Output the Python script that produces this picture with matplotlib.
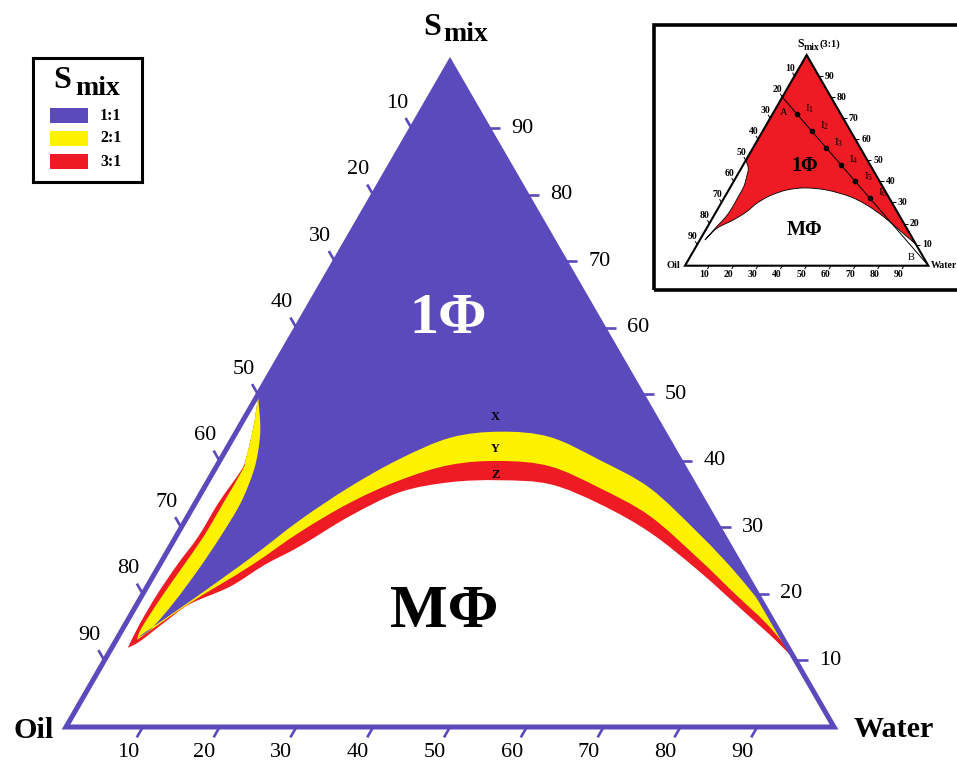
import numpy as np
import matplotlib
matplotlib.use("Agg")
import matplotlib.pyplot as plt
from matplotlib.path import Path
from matplotlib.patches import PathPatch, Polygon, Rectangle

plt.rcParams["font.family"] = "Liberation Serif"
plt.rcParams["mathtext.fontset"] = "custom"
plt.rcParams["mathtext.rm"] = "Liberation Serif"
plt.rcParams["mathtext.bf"] = "Liberation Serif:bold"
plt.rcParams["mathtext.it"] = "Liberation Serif:italic"

W_PX, H_PX = 957, 766
SQ3 = np.sqrt(3) / 2

PURPLE = "#5b4abb"
YELLOW = "#fff200"
RED = "#ee1b24"

TICKS = [10, 20, 30, 40, 50, 60, 70, 80, 90]
SMIX_RATIOS = ["1:1", "2:1", "3:1"]
RATIO_COLORS = [PURPLE, YELLOW, RED]

# Phase boundaries as (water %, Smix %), oil = 100 - water - Smix.
# Lower edge of each one-phase region, from the oil-side tip to the water-side end.
LOW_11_WATER = [2.55, 6.7, 11.3, 14.9, 18.9, 23.3, 28.3, 34.3, 41.2, 49.5, 58.1, 68.1, 75.1, 82.4]
LOW_11_SMIX = [13.4, 18.9, 25.4, 31.1, 36.1, 40.3, 43.5, 44.4, 43.6, 40.1, 35.9, 28.9, 23.6, 17.6]

LOW_21_WATER = [2.7, 6.8, 11.9, 15.8, 20.1, 24.9, 30.3, 36.5, 43.4, 51.6, 60.2, 70.0, 76.7, 83.5, 88.9]
LOW_21_SMIX = [13.1, 18.6, 24.2, 29.3, 33.7, 37.1, 39.4, 40.0, 39.2, 35.9, 31.7, 25.1, 20.3, 15.5, 11.1]

LOW_31_WATER = [2.1, 3.2, 5.0, 6.9, 10.8, 13.7, 16.9, 21.1, 25.8, 31.6, 37.9, 44.8, 52.8, 61.5, 70.9, 80.4, 85.8, 90.1]
LOW_31_SMIX = [11.9, 12.9, 15.8, 18.5, 21.1, 24.4, 27.2, 31.7, 35.3, 36.8, 37.1, 36.5, 33.5, 29.2, 23.3, 16.8, 13.1, 9.9]

# Oil-side edge of each region, from the Oil-Smix axis down to the tip.
LEFT_11_WATER = [0.0, 2.75, 4.2, 5.2, 5.9, 5.8, 5.4, 4.7, 3.7, 2.55]
LEFT_11_SMIX = [50.0, 45.1, 41.7, 38.4, 33.7, 28.6, 23.7, 18.8, 14.7, 13.4]

LEFT_21_WATER = [0.0, 0.35, 1.85, 3.3, 3.65, 3.65, 3.6, 3.1, 2.6, 2.4, 2.7]
LEFT_21_SMIX = [50.0, 49.2, 45.1, 40.2, 38.7, 33.7, 28.6, 23.7, 18.8, 14.7, 13.1]

LEFT_31_WATER = [0.0, 0.35, 1.85, 3.3, 3.5, 3.0, 2.9, 2.3, 1.9, 1.85, 2.1]
LEFT_31_SMIX = [50.0, 49.2, 45.1, 40.2, 38.4, 33.7, 28.6, 24.5, 20.0, 15.5, 11.9]

# Smix 3:1 diagram with the water dilution line A-B
INSET_LOW_WATER = [2.1, 4.2, 9.0, 12.5, 14.7, 18.3, 23.8, 30.9, 40.3, 51.4, 60.3, 69.9, 80.1, 89.9]
INSET_LOW_SMIX = [12.2, 17.7, 21.7, 25.6, 29.6, 33.2, 35.9, 36.9, 35.9, 32.8, 28.8, 23.3, 16.6, 10.1]
INSET_LEFT_WATER = [0.0, 2.9, 4.2, 5.4, 5.5, 5.6, 5.2, 3.75, 2.7, 2.1]
INSET_LEFT_SMIX = [50.0, 46.2, 42.3, 37.5, 32.8, 28.0, 23.3, 18.5, 14.6, 12.2]

DILUTION_WATER = [10, 20, 30, 40, 50, 60]
DILUTION_SMIX = [72, 64, 56, 48, 40, 32]


def tern(water, smix):
    water = np.asarray(water, dtype=float)
    smix = np.asarray(smix, dtype=float)
    return water + smix / 2, smix * SQ3


def curve_through(pts):
    """Catmull-Rom curve through pts as cubic Bezier segments."""
    pts = np.asarray(pts, dtype=float)
    n = len(pts)
    verts, codes = [], []
    for i in range(n - 1):
        p0 = pts[i - 1] if i > 0 else pts[i]
        p1, p2 = pts[i], pts[i + 1]
        p3 = pts[i + 2] if i + 2 < n else pts[i + 1]
        verts += [p1 + (p2 - p0) / 6, p2 - (p3 - p1) / 6, p2]
        codes += [Path.CURVE4] * 3
    return verts, codes


def region_path(low_w, low_s, left_w, left_s):
    apex = np.array(tern(0, 100))
    low = np.column_stack(tern(low_w, low_s))[::-1]
    left = np.column_stack(tern(left_w, left_s))[::-1]
    verts = [apex, low[0]]
    codes = [Path.MOVETO, Path.LINETO]
    v, c = curve_through(low)
    verts += v
    codes += c
    if not np.allclose(left[0], low[-1]):
        verts.append(left[0])
        codes.append(Path.LINETO)
    v, c = curve_through(left)
    verts += v
    codes += c
    verts += [apex, apex]
    codes += [Path.LINETO, Path.CLOSEPOLY]
    return Path(np.array(verts), codes)


def ternary_axes(fig, box, origin, scale):
    """Axes whose data units are ternary percent, with the Oil corner at origin (px)."""
    l, t, r, b = box
    ax = fig.add_axes([l / W_PX, 1 - b / H_PX, (r - l) / W_PX, (b - t) / H_PX])
    ox, oy = origin
    ax.set_xlim((l - ox) / scale, (r - ox) / scale)
    ax.set_ylim((oy - b) / scale, (oy - t) / scale)
    ax.set_axis_off()
    return ax


def draw_frame(ax, color, lw, tick_len, gaps, tick_lw, fontsize, weight):
    corners = np.column_stack(tern([0, 100, 0], [0, 0, 100]))
    ax.add_patch(Polygon(corners, closed=True, fill=False, edgecolor=color,
                         lw=lw, joinstyle="miter", zorder=5))
    gap_b, gap_l, gap_r = gaps
    for v in TICKS:
        # water along the bottom, oil on the left side, Smix on the right side
        for base, d, gap, ha in [
            (tern(v, 0), (-0.5, -SQ3), gap_b, "center"),
            (tern(0, 100 - v), (-0.5, SQ3), gap_l, "center"),
            (tern(100 - v, v), (1.0, 0.0), gap_r, "left"),
        ]:
            base = np.array(base)
            d = np.array(d)
            end = base + d * tick_len
            ax.plot([base[0], end[0]], [base[1], end[1]], color=color, lw=tick_lw,
                    solid_capstyle="butt", zorder=5)
            pos = base + d * gap
            ax.text(pos[0], pos[1], str(v), ha=ha, va="center",
                    fontsize=fontsize, fontweight=weight)


fig = plt.figure(figsize=(W_PX / 100, H_PX / 100), dpi=100)

# ---- main diagram ----
ax = ternary_axes(fig, (0, 0, W_PX, H_PX), (66, 727), 7.68)

regions = [
    (LOW_31_WATER, LOW_31_SMIX, LEFT_31_WATER, LEFT_31_SMIX, RED),
    (LOW_21_WATER, LOW_21_SMIX, LEFT_21_WATER, LEFT_21_SMIX, YELLOW),
    (LOW_11_WATER, LOW_11_SMIX, LEFT_11_WATER, LEFT_11_SMIX, PURPLE),
]
for low_w, low_s, left_w, left_s, col in regions:
    ax.add_patch(PathPatch(region_path(low_w, low_s, left_w, left_s),
                           facecolor=col, edgecolor="none", zorder=2))

draw_frame(ax, PURPLE, 3.6, 1.56, (3.9, 3.8, 3.0), 1.9, 16, "normal")

ax.text(46.5, 90.1, "S", fontsize=23, fontweight="bold", va="baseline")
ax.text(49.1, 89.3, "mix", fontsize=20, fontweight="bold", va="baseline")
ax.text(-6.9, -1.4, "Oil", fontsize=21.7, fontweight="bold", va="baseline")
ax.text(102.5, -1.3, "Water", fontsize=21.7, fontweight="bold", va="baseline")

ax.text(49.7, 53.1, "1\u03a6", fontsize=42, fontweight="bold", color="white",
        ha="center", va="center", zorder=6)
ax.text(49.2, 15.0, "M\u03a6", fontsize=44, fontweight="bold",
        ha="center", va="center", zorder=6)
for lab, y in zip(["X", "Y", "Z"], [40.4, 36.2, 32.8]):
    ax.text(55.9, y, lab, fontsize=9, fontweight="bold", ha="center", va="center", zorder=6)

# ---- legend box ----
lax = fig.add_axes([33 / W_PX, 1 - 182 / H_PX, 109 / W_PX, 124 / H_PX])
lax.set_xlim(0, 109)
lax.set_ylim(124, 0)
lax.set_xticks([])
lax.set_yticks([])
for sp in lax.spines.values():
    sp.set_linewidth(2.2)
    sp.set_color("black")
lax.text(20, 30, "S", fontsize=23, fontweight="bold", va="baseline")
lax.text(42, 37, "mix", fontsize=20, fontweight="bold", va="baseline")
for i, (lab, col) in enumerate(zip(SMIX_RATIOS, RATIO_COLORS)):
    lax.add_patch(Rectangle((17, 50 + i * 23), 38, 14.5, facecolor=col, edgecolor="none"))
    lax.text(67, 57.5 + i * 23, lab, fontsize=11.5, fontweight="bold", va="center")

# ---- Smix 3:1 inset ----
iax = ternary_axes(fig, (653.5, 24.5, W_PX, 289.5), (685, 265.7), 2.433)
iax.add_patch(Rectangle((0, 0), 1.5, 1, transform=iax.transAxes, fill=False,
                        edgecolor="black", lw=2.6, clip_on=False))
iax.add_patch(PathPatch(region_path(INSET_LOW_WATER, INSET_LOW_SMIX,
                                    INSET_LEFT_WATER, INSET_LEFT_SMIX),
                        facecolor=RED, edgecolor="black", lw=0.6, zorder=2))
draw_frame(iax, "black", 1.5, 1.6, (4.4, 3.7, 2.4), 0.7, 7, "bold")

iax.plot(*tern([0, 100], [80, 0]), color="black", lw=0.7, zorder=3)
iax.plot(*tern(DILUTION_WATER, DILUTION_SMIX), "o", ms=3, color="black", zorder=4)
for i, (w, s) in enumerate(zip(DILUTION_WATER, DILUTION_SMIX)):
    x, y = tern(w, s)
    iax.text(x + 3.4, y + 2.1, rf"$\mathrm{{I}}_{{{i + 1}}}$", fontsize=8, va="center")
iax.text(40.4, 62.9, "A", fontsize=7.5, ha="center", va="center")
iax.text(92.8, 3.3, "B", fontsize=7.5, ha="center", va="center")
iax.text(49.3, 41.1, "1\u03a6", fontsize=14.5, fontweight="bold", ha="center", va="center")
iax.text(49.0, 14.7, "M\u03a6", fontsize=14.5, fontweight="bold", ha="center", va="center")
iax.text(-1.8, 0, "Oil", fontsize=7.5, fontweight="bold", ha="right", va="center")
iax.text(101.2, 0, "Water", fontsize=7, fontweight="bold", ha="left", va="center")
iax.text(46.4, 89.9, "S", fontsize=8.5, fontweight="bold", va="baseline")
iax.text(48.9, 88.6, "mix", fontsize=7, fontweight="bold", va="baseline")
iax.text(55.3, 89.8, "(3:1)", fontsize=7.5, fontweight="bold", va="baseline")

fig.savefig("out.png", dpi=100)
